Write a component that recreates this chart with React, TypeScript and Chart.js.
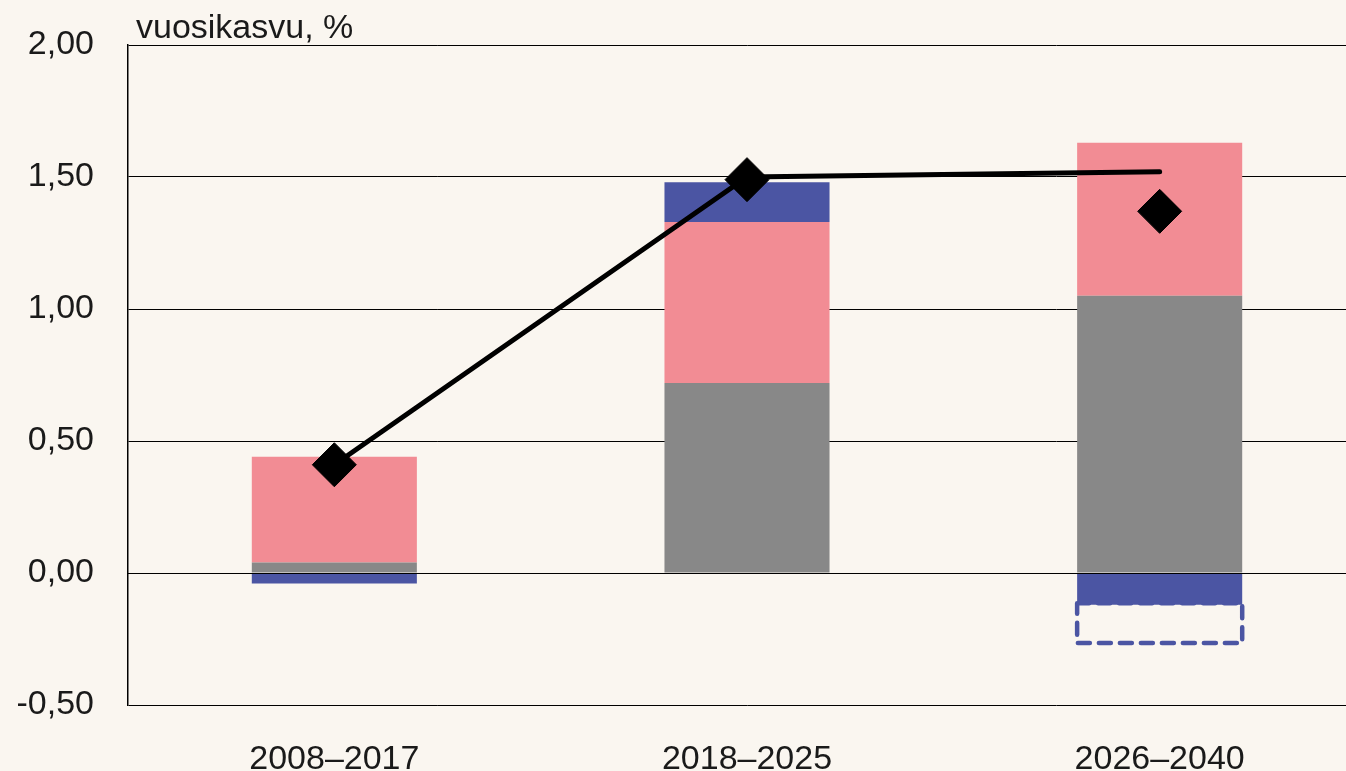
import React, { useEffect, useRef } from "react";
import { Chart, registerables } from "chart.js";

Chart.register(...registerables);

const categories = ["2008–2017", "2018–2025", "2026–2040"];
const grayValues = [0.04, 0.72, 1.05];
const pinkValues = [0.4, 0.61, 0.58];
const blueValues = [-0.04, 0.15, -0.12];
const dashedBox: (number[] | null)[] = [null, null, [-0.265, -0.115]];
const lineValues = [0.41, 1.5, 1.52];
const diamondValues = [0.41, 1.49, 1.37];
const yTicks = [-0.5, 0, 0.5, 1, 1.5, 2];
const yTitle = "vuosikasvu, %";

const BG = "#FAF6F0";
const GRAY = "#888888";
const PINK = "#F28C94";
const BLUE = "#4B55A3";
const FONT = "'Liberation Sans', Arial, sans-serif";

const overlayPlugin = {
  id: "overlay",
  afterDatasetsDraw(chart: any) {
    const ctx = chart.ctx;
    const area = chart.chartArea;
    const y = chart.scales.y;
    const y0 = Math.round(y.getPixelForValue(0)) + 0.5;
    ctx.save();
    ctx.strokeStyle = "#000000";
    ctx.lineWidth = 1.2;
    ctx.beginPath();
    ctx.moveTo(area.left, y0);
    ctx.lineTo(area.right, y0);
    ctx.stroke();
    const meta = chart.getDatasetMeta(3);
    meta.data.forEach((el: any, i: number) => {
      if (!dashedBox[i]) return;
      const p = el.getProps(["x", "y", "base", "width"], true);
      const left = p.x - p.width / 2;
      const top = Math.min(p.y, p.base);
      const h = Math.abs(p.base - p.y);
      ctx.strokeStyle = BLUE;
      ctx.lineWidth = 4.5;
      ctx.lineJoin = "round";
      ctx.lineCap = "round";
      ctx.setLineDash([12, 9]);
      ctx.beginPath();
      ctx.rect(left, top, p.width, h);
      ctx.stroke();
    });
    ctx.restore();
  },
  afterDraw(chart: any) {
    const ctx = chart.ctx;
    const area = chart.chartArea;
    ctx.save();
    ctx.fillStyle = "#1a1a1a";
    ctx.font = `34px ${FONT}`;
    ctx.textBaseline = "middle";
    ctx.textAlign = "left";
    ctx.fillText(yTitle, area.left + 8, area.top - 16);
    ctx.restore();
  },
};

export default function App() {
  const ref = useRef<HTMLCanvasElement>(null);
  useEffect(() => {
    const prevMargin = document.body.style.margin;
    document.body.style.margin = "0";
    document.body.style.background = BG;
    const chart = new Chart(ref.current as HTMLCanvasElement, {
      type: "bar",
      data: {
        labels: categories,
        datasets: [
          { type: "bar", label: "gray", data: grayValues, backgroundColor: GRAY, stack: "a", order: 3, grouped: false } as any,
          { type: "bar", label: "pink", data: pinkValues, backgroundColor: PINK, stack: "a", order: 3, grouped: false } as any,
          { type: "bar", label: "blue", data: blueValues, backgroundColor: BLUE, stack: "a", order: 3, grouped: false } as any,
          { type: "bar", label: "box", data: dashedBox, backgroundColor: "rgba(0,0,0,0)", stack: "b", order: 3, grouped: false } as any,
          {
            type: "line",
            label: "line",
            data: lineValues,
            stack: "c",
            borderColor: "#000000",
            borderWidth: 5,
            borderCapStyle: "round",
            pointRadius: 0,
            order: 1,
          } as any,
          {
            type: "line",
            label: "diamonds",
            data: diamondValues,
            stack: "d",
            showLine: false,
            pointStyle: "rectRot",
            pointRadius: 22,
            pointBackgroundColor: "#000000",
            pointBorderColor: "#000000",
            pointBorderWidth: 1,
            order: 0,
          } as any,
        ],
      },
      options: {
        responsive: false,
        animation: false,
        categoryPercentage: 1,
        barPercentage: 0.4,
        layout: { autoPadding: false, padding: { top: 45, left: 0, right: 0, bottom: 0 } },
        plugins: { legend: { display: false }, tooltip: { enabled: false }, title: { display: false } },
        scales: {
          x: {
            stacked: true,
            grid: { display: false },
            border: { display: false },
            afterFit: (axis: any) => {
              axis.height = 66;
            },
            ticks: { color: "#1a1a1a", font: { size: 34, family: FONT }, padding: 26 },
          },
          y: {
            stacked: true,
            min: -0.5,
            max: 2,
            afterBuildTicks: (axis: any) => {
              axis.ticks = yTicks.map((v) => ({ value: v }));
            },
            afterFit: (axis: any) => {
              axis.width = 128;
              axis.paddingTop = 0;
              axis.paddingBottom = 0;
            },
            grid: { color: "#000000", lineWidth: 1, drawTicks: false },
            border: { display: true, color: "#000000", width: 1.5 },
            ticks: {
              color: "#1a1a1a",
              font: { size: 34, family: FONT },
              padding: 34,
              callback: (v: any) => Number(v).toFixed(2).replace(".", ","),
            },
          },
        },
      },
      plugins: [overlayPlugin],
    });
    return () => {
      chart.destroy();
      document.body.style.margin = prevMargin;
    };
  }, []);
  return (
    <div style={{ position: "fixed", left: 0, top: 0, width: 1346, height: 771, overflow: "hidden", background: BG }}>
      <canvas ref={ref} width={1366} height={771} style={{ display: "block" }} />
    </div>
  );
}
